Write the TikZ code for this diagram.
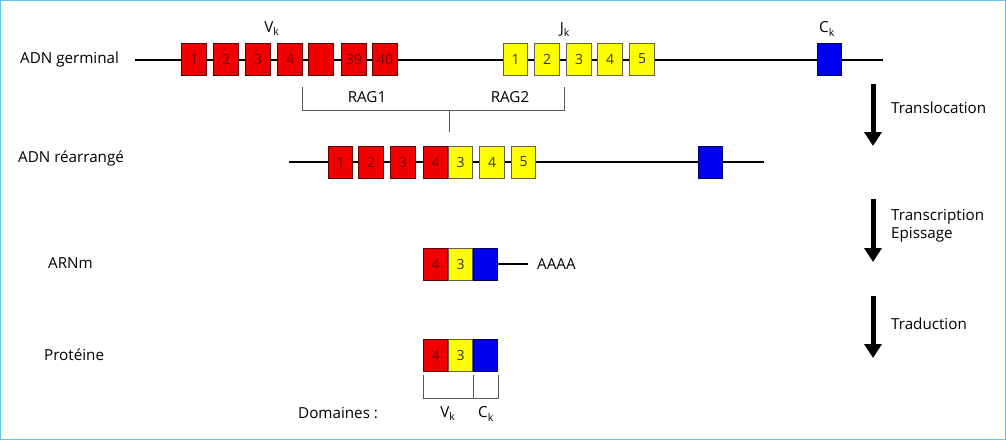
\documentclass[tikz,border=0pt]{standalone}
\usepackage{fontspec}
\setmainfont{Open Sans}
\usetikzlibrary{arrows.meta,positioning}
\definecolor{cadre}{RGB}{90,200,230}
\definecolor{rouge}{RGB}{240,0,0}
\definecolor{jaune}{RGB}{255,255,0}
\definecolor{bleu}{RGB}{0,0,240}
\newcommand{\lbl}{\fontsize{15.2}{18}\selectfont}
\newcommand{\numfont}{\fontsize{14}{16}\selectfont}

\begin{document}
\begin{tikzpicture}[x=1pt,y=-1pt,
    seg/.style={draw, line width=0.8pt, minimum width=24.5pt, minimum height=32pt, inner sep=0pt, font=\numfont},
    vseg/.style={seg, fill=rouge, draw=red!40!black, text=red!45!black},
    jseg/.style={seg, fill=jaune, draw=black!70!yellow, text=black!80},
    cseg/.style={seg, fill=bleu, draw=blue!40!black},
    txt/.style={font=\lbl, inner sep=0pt},
    adn/.style={line width=1.6pt},
    rag/.style={line width=1pt, black!65},
    etape/.style={line width=5pt, -{Triangle[length=14pt,width=17pt]}}
    ]
    %cadre
    \useasboundingbox (0,0) rectangle (1006,440);
    \draw[cadre, line width=1pt] (0.5,0.5) rectangle (1005.5,439.5);

    % ADN germinal
    \coordinate (g0) at (135,60);
    \coordinate (g1) at (883,60);
    \draw[adn] (g0) -- (g1);
    \node[txt, anchor=west] (germ) at (20,60) {ADN germinal};
    \node[vseg] (v1)  at (194,59)   {1};
    \node[vseg] (v2)  at (226,59)   {2};
    \node[vseg] (v3)  at (258,59)   {3};
    \node[vseg] (v4)  at (290,59)   {4};
    \node[vseg] (v5)  at (321,59)   {};
    \node[vseg] (v39) at (354,59)   {39};
    \node[vseg] (v40) at (385,59)   {40};
    \node[jseg] (j1)  at (515.5,59) {1};
    \node[jseg] (j2)  at (547,59)   {2};
    \node[jseg] (j3)  at (579,59)   {3};
    \node[jseg] (j4)  at (610,59)   {4};
    \node[jseg] (j5)  at (642,59)   {5};
    \node[cseg] (c1)  at (829.5,59) {};
    \node[txt] (vk) at (272,29) {V\textsubscript{k}};
    \node[txt] (jk) at (565,30) {J\textsubscript{k}};
    \node[txt] (ck) at (827,29) {C\textsubscript{k}};

    % recombinaison
    \coordinate (ra) at (302,87);
    \coordinate (rb) at (302,110);
    \coordinate (rc) at (564,110);
    \coordinate (rd) at (564,87);
    \coordinate (re) at (449,110);
    \coordinate (rf) at (449,132);
    \draw[rag] (ra) -- (rb) -- (rc) -- (rd);
    \draw[rag] (re) -- (rf);
    \node[txt] (rag1) at (367,97) {RAG1};
    \node[txt] (rag2) at (510,97) {RAG2};

    % ADN rearrange
    \coordinate (h0) at (289,162);
    \coordinate (h1) at (764,162);
    \draw[adn] (h0) -- (h1);
    \node[txt, anchor=west] (rearr) at (18,158) {ADN réarrangé};
    \node[vseg] (w1) at (340.5,162) {1};
    \node[vseg] (w2) at (371,162)   {2};
    \node[vseg] (w3) at (403,162)   {3};
    \node[vseg] (w4) at (435.5,162) {4};
    \node[jseg] (k3) at (460.5,162) {3};
    \node[jseg] (k4) at (492,162)   {4};
    \node[jseg] (k5) at (523.5,162) {5};
    \node[cseg] (c2) at (710.5,162) {};

    % ARNm
    \node[txt, anchor=west] (arnm) at (48,263) {ARNm};
    \node[vseg] (m4) at (435.5,264) {4};
    \node[jseg] (m3) at (460.5,264) {3};
    \node[cseg] (mc) at (485.5,264) {};
    \coordinate (poly) at (528,264);
    \draw[adn] (mc.east) -- (poly);
    \node[txt, anchor=west] (aaaa) at (537,264) {AAAA};

    % Proteine
    \node[txt, anchor=west] (prot) at (44,355) {Protéine};
    \node[vseg] (p4) at (435.5,355) {4};
    \node[jseg] (p3) at (460.5,355) {3};
    \node[cseg] (pc) at (485.5,355) {};
    \coordinate (da) at (423,375);
    \coordinate (db) at (423,398);
    \coordinate (dc) at (498,398);
    \coordinate (dd) at (498,375);
    \coordinate (de) at (473,375);
    \coordinate (df) at (473,398);
    \draw[rag] (da) -- (db) -- (dc) -- (dd);
    \draw[rag] (de) -- (df);
    \node[txt, anchor=west] (dom) at (298,413) {Domaines :};
    \node[txt] (dv) at (448,414) {V\textsubscript{k}};
    \node[txt] (dcst) at (486,414) {C\textsubscript{k}};

    % etapes
    \coordinate (e1a) at (873,84);
    \coordinate (e1b) at (873,146);
    \coordinate (e2a) at (873,199);
    \coordinate (e2b) at (873,262);
    \coordinate (e3a) at (873,296);
    \coordinate (e3b) at (873,358);
    \draw[etape] (e1a) -- (e1b);
    \draw[etape] (e2a) -- (e2b);
    \draw[etape] (e3a) -- (e3b);
    \node[txt, anchor=west] (trl) at (891,108) {Translocation};
    \node[txt, anchor=west, align=left] (trc) at (891,226) {Transcription\\Epissage};
    \node[txt, anchor=west] (trd) at (891,324) {Traduction};
\end{tikzpicture}
\end{document}
